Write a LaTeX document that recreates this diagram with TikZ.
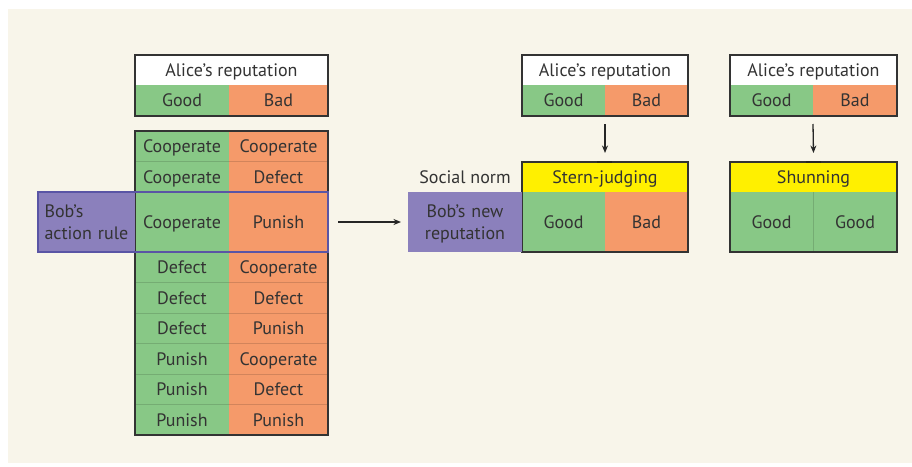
\documentclass[tikz,border=0pt]{standalone}
\usepackage{fontspec}
\setmainfont{PT Sans}
\usetikzlibrary{arrows.meta}
\definecolor{bgc}{HTML}{F8F5EA}
\definecolor{gcell}{HTML}{88C886}
\definecolor{ocell}{HTML}{F59A6A}
\definecolor{ycell}{HTML}{FFF000}
\definecolor{pcell}{HTML}{8B80BC}
\definecolor{pborder}{HTML}{5A55A5}
\definecolor{txt}{HTML}{333333}
\definecolor{frame}{HTML}{333333}
\begin{document}
\begin{tikzpicture}[x=1pt,y=-1pt,
  cell/.style={anchor=north west,inner sep=0pt,outer sep=0pt,draw=none,text=txt,
    font=\fontsize{18}{21.5}\selectfont,minimum width=#1,align=center,
    text height=12.6pt,text depth=0pt},
  cell/.default=94pt,
  gc/.style={cell=#1,fill=gcell},
  gc/.default=94pt,
  oc/.style={cell=#1,fill=ocell},
  oc/.default=99pt,
  twoline/.style={text depth=21.5pt},
  hrow/.style={minimum height=30.5pt},
  drow/.style={minimum height=60pt},
  boxframe/.style={draw=frame,line width=1.4pt},
  arr/.style={draw=black!85,line width=1.3pt,-{Stealth[length=7.5pt,width=6pt]}},
  sep/.style={line width=0.6pt,opacity=0.35}
]
\useasboundingbox (0,0) rectangle (912,466);
\fill[bgc] (8,9) rectangle (912,463);

% ---------- left: Alice's reputation ----------
\node[cell=193pt,fill=white,minimum height=30pt] (lhdr) at (135,55) {Alice’s reputation};
\node[gc,minimum height=31pt] (lgood) at (135,85) {Good};
\node[oc,minimum height=31pt] (lbad) at (229,85) {Bad};
\draw[boxframe] (lhdr.north west) rectangle (lbad.south east);

% ---------- left: action rules ----------
\node[gc,hrow] (r1g) at (135,131) {Cooperate};
\node[oc,hrow] (r1b) at (229,131) {Cooperate};
\node[gc,hrow] (r2g) at (135,161.5) {Cooperate};
\node[oc,hrow] (r2b) at (229,161.5) {Defect};
\node[gc,drow] (r3g) at (135,192) {Cooperate};
\node[oc,drow] (r3b) at (229,192) {Punish};
\node[gc,hrow] (r4g) at (135,252) {Defect};
\node[oc,hrow] (r4b) at (229,252) {Cooperate};
\node[gc,hrow] (r5g) at (135,282.5) {Defect};
\node[oc,hrow] (r5b) at (229,282.5) {Defect};
\node[gc,hrow] (r6g) at (135,313) {Defect};
\node[oc,hrow] (r6b) at (229,313) {Punish};
\node[gc,hrow] (r7g) at (135,343.5) {Punish};
\node[oc,hrow] (r7b) at (229,343.5) {Cooperate};
\node[gc,hrow] (r8g) at (135,374) {Punish};
\node[oc,hrow] (r8b) at (229,374) {Defect};
\node[gc,hrow] (r9g) at (135,404.5) {Punish};
\node[oc,hrow] (r9b) at (229,404.5) {Punish};
% faint row separators
\foreach \r in {r1,r2,r4,r5,r6,r7,r8}{
  \draw[sep,draw=gcell!60!black] (\r g.south west) -- (\r g.south east);
  \draw[sep,draw=ocell!60!black] (\r b.south west) -- (\r b.south east);
}
\draw[boxframe] (r1g.north west) rectangle (r9b.south east);

% Bob's action rule
\node[cell=97pt,fill=pcell,drow,twoline,align=left,text width=84pt] (bar) at (38,192) {Bob’s\\action rule};
\draw[draw=pborder,line width=1.8pt] (bar.north west) rectangle (r3b.south east);

% ---------- middle: Stern-judging ----------
\node[cell=166pt,fill=white,minimum height=30pt] (mhdr) at (522,55) {Alice’s reputation};
\node[gc=83pt,minimum height=31pt] (mgood) at (522,85) {Good};
\node[oc=83pt,minimum height=31pt] (mbad) at (605,85) {Bad};
\draw[boxframe] (mhdr.north west) rectangle (mbad.south east);

\node[cell=166pt,fill=ycell,minimum height=30pt] (stern) at (522,162) {Stern-judging};
\node[gc=83pt,drow] (sgood) at (522,192) {Good};
\node[oc=83pt,drow] (sbad) at (605,192) {Bad};
\draw[boxframe] (stern.north west) rectangle (sbad.south east);

\node[cell=114pt,minimum height=30pt] (snorm) at (408,162) {Social norm};
\node[cell=114pt,fill=pcell,drow,twoline,text width=114pt] (bnr) at (408,192) {Bob’s new\\reputation};

% ---------- right: Shunning ----------
\node[cell=167pt,fill=white,minimum height=30pt] (rhdr) at (730,55) {Alice’s reputation};
\node[gc=83pt,minimum height=31pt] (rgood) at (730,85) {Good};
\node[oc=84pt,minimum height=31pt] (rbad) at (813,85) {Bad};
\draw[boxframe] (rhdr.north west) rectangle (rbad.south east);

\node[cell=167pt,fill=ycell,minimum height=30pt] (shun) at (730,162) {Shunning};
\node[gc=83pt,drow] (hgood) at (730,192) {Good};
\node[gc=84pt,drow] (hgood2) at (813,192) {Good};
\draw[sep,draw=gcell!60!black,line width=1pt] (hgood.north east) -- (hgood.south east);
\draw[boxframe] (shun.north west) rectangle (hgood2.south east);

% ---------- connectors ----------
\draw[arr] ([xshift=10pt]r3b.east) -- ([xshift=-7pt]bnr.west);
\draw[arr] ([yshift=-8pt]mgood.south east) -- ([yshift=9pt]stern.north);
\draw[arr] ([yshift=-8pt]rgood.south east) -- ([yshift=9pt]shun.north);
\draw[line width=2.4pt,black!85] ([xshift=-8pt]stern.north) -- ([xshift=7pt]stern.north);
\draw[line width=2.4pt,black!85] ([xshift=-8pt]shun.north) -- ([xshift=7pt]shun.north);
\end{tikzpicture}
\end{document}
